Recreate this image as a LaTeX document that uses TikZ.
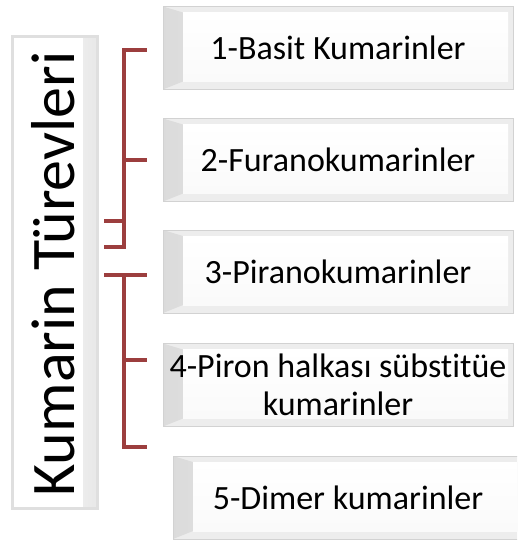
\documentclass[tikz,border=0pt]{standalone}
\usepackage{fontspec}
\setmainfont{Carlito}[Ligatures=NoCommon]

\definecolor{brkred}{RGB}{156,62,62}
\tikzset{
  item/.style={draw=gray!35, line width=1pt, fill=gray!14,
    minimum width=350pt, minimum height=83pt, inner sep=0pt,
    align=center, font=\fontsize{34}{38}\selectfont,
    path picture={
      \fill[left color=gray!28, right color=gray!6]
        (path picture bounding box.north west)
        -- ([xshift=20pt,yshift=-6pt]path picture bounding box.north west)
        -- ([xshift=20pt,yshift=8pt]path picture bounding box.south west)
        -- (path picture bounding box.south west) -- cycle;
      \fill[top color=white, bottom color=gray!4]
        ([xshift=20pt,yshift=-6pt]path picture bounding box.north west)
        rectangle ([xshift=-5pt,yshift=8pt]path picture bounding box.south east);
    }},
  titlebox/.style={draw=gray!25, line width=3pt, fill=white,
    minimum width=85pt, minimum height=471pt, inner sep=0pt,
    font=\fontsize{62}{66}\selectfont,
    path picture={
      \fill[left color=white, right color=gray!18]
        ([xshift=-14pt]path picture bounding box.north east)
        rectangle (path picture bounding box.south east);
    }},
  brk/.style={brkred, line width=4.5pt},
}

\begin{document}
\begin{tikzpicture}[x=1pt,y=-1pt]
\useasboundingbox (0,0) rectangle (517,540);
\clip (0,0) rectangle (517,540);
% main title
\node[titlebox] (lbox) at (54.5,272.5) {};
\node[rotate=90, font=\fontsize{62}{66}\selectfont] (ltext) at (53,274) {Kumarin Türevleri};
% subgroups
\foreach \y/\t [count=\i] in {48/1-Basit Kumarinler, 160/2-Furanokumarinler, 271.5/3-Piranokumarinler} {
    \node[item] (b\i) at (338,\y) {\t};
}
\node[item] (b4) at (338,385) {4-Piron halkası sübstitüe\\kumarinler};
\node[item] (b5) at (348,497.5) {5-Dimer kumarinler};
% bracket points
\coordinate (L) at ([xshift=5pt]lbox.east);
\coordinate (R) at ([xshift=-16pt]b1.west);
\coordinate (uA) at (124,50);
\coordinate (uJ) at (124,221);
\coordinate (uB) at (124,247);
\coordinate (lA) at (124,275);
\coordinate (lM) at (124,360);
\coordinate (lB) at (124,447);
% upper bracket
\draw[brk] (R |- uA) -- (uA) -- (uB) -- (L |- uB);
\draw[brk] (uJ) -- (L |- uJ);
\draw[brk] (R |- b2) -- (uA |- b2);
% lower bracket
\draw[brk] (R |- lA) -- (L |- lA);
\draw[brk] (lA) -- (lB) -- (R |- lB);
\draw[brk] (lM) -- (R |- lM);
\end{tikzpicture}
\end{document}
